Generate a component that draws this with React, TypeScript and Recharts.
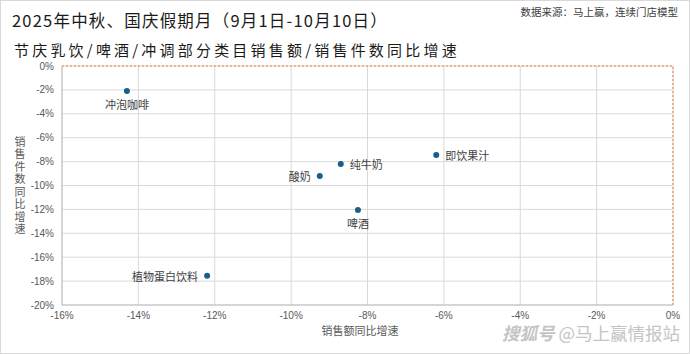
import React from 'react';
import { ScatterChart, Scatter, XAxis, YAxis, CartesianGrid, ReferenceLine } from 'recharts';

const categories = ['冲泡咖啡', '纯牛奶', '酸奶', '即饮果汁', '啤酒', '植物蛋白饮料'];
const salesGrowth = [-14.3, -8.7, -9.25, -6.2, -8.25, -12.2];
const unitsGrowth = [-2.1, -8.2, -9.2, -7.45, -12.05, -17.55];
const xTicks = [-16, -14, -12, -10, -8, -6, -4, -2, 0];
const yTicks = [0, -2, -4, -6, -8, -10, -12, -14, -16, -18, -20];

const labelSide: Record<string, 'below' | 'right' | 'left'> = {
  冲泡咖啡: 'below',
  纯牛奶: 'right',
  酸奶: 'left',
  即饮果汁: 'right',
  啤酒: 'below',
  植物蛋白饮料: 'left',
};

const data = categories.map((name, i) => ({ name, x: salesGrowth[i], y: unitsGrowth[i] }));

const FONT = '"Noto Sans CJK SC", "Noto Sans", sans-serif';
const TICK_FONT = '"Liberation Sans", Arial, sans-serif';

const PointShape = (props: any) => {
  const { cx, cy, payload } = props;
  const side = labelSide[payload.name];
  let tx = cx;
  let ty = cy;
  let anchor: 'middle' | 'start' | 'end' = 'middle';
  if (side === 'below') {
    ty = cy + 13;
  } else if (side === 'right') {
    tx = cx + 9;
    anchor = 'start';
  } else {
    tx = cx - 9;
    anchor = 'end';
  }
  return (
    <g>
      <circle cx={cx} cy={cy} r={3} fill="#1b5e87" />
      <text x={tx} y={ty} textAnchor={anchor} dominantBaseline="central" fontSize={11} fill="#404040" fontFamily={FONT}>
        {payload.name}
      </text>
    </g>
  );
};

const fmt = (v: number) => `${v}%`;

export default function App() {
  return (
    <div style={{ position: 'absolute', left: 0, top: 0, width: 690, height: 354, background: '#fff', fontFamily: FONT }}>
      <ScatterChart width={690} height={354} margin={{ top: 66, right: 17, bottom: 29, left: 22 }}>
        <CartesianGrid stroke="#d9d9d9" strokeWidth={1} />
        <XAxis
          type="number"
          dataKey="x"
          domain={[-16, 0]}
          ticks={xTicks}
          tickFormatter={fmt}
          height={20}
          tick={{ fontSize: 10, fill: '#595959', fontFamily: TICK_FONT, dy: -1 }}
          tickLine={false}
          axisLine={{ stroke: '#bfbfbf' }}
          interval={0}
        />
        <YAxis
          type="number"
          dataKey="y"
          domain={[-20, 0]}
          ticks={yTicks}
          tickFormatter={fmt}
          width={40}
          tick={{ fontSize: 10, fill: '#595959', fontFamily: TICK_FONT }}
          tickLine={false}
          axisLine={{ stroke: '#bfbfbf' }}
          interval={0}
        />
        <ReferenceLine x={0} stroke="#ed7d31" strokeDasharray="2 2" strokeWidth={1} />
        <ReferenceLine y={0} stroke="#ed7d31" strokeDasharray="2 2" strokeWidth={1} />
        <Scatter data={data} shape={PointShape} isAnimationActive={false} />
      </ScatterChart>
      <div style={{ position: 'absolute', left: 12, top: 11, fontSize: 16.5, letterSpacing: 1.2, color: '#1a1a1a', whiteSpace: 'nowrap', lineHeight: '18px' }}>
        2025年中秋、国庆假期月（9月1日-10月10日）
      </div>
      <div style={{ position: 'absolute', left: 14, top: 42, fontSize: 15, letterSpacing: 3.2, color: '#1a1a1a', whiteSpace: 'nowrap', lineHeight: '16px' }}>
        节庆乳饮/啤酒/冲调部分类目销售额/销售件数同比增速
      </div>
      <div style={{ position: 'absolute', right: 12, top: 5, fontSize: 10.5, color: '#404040', whiteSpace: 'nowrap', lineHeight: '14px' }}>
        数据来源：马上赢，连续门店模型
      </div>
      <div
        style={{
          position: 'absolute',
          left: 13,
          top: 136,
          fontSize: 11,
          color: '#595959',
          writingMode: 'vertical-rl',
          textOrientation: 'upright',
          letterSpacing: 1.5,
          lineHeight: '14px',
          whiteSpace: 'nowrap',
        }}
      >
        销售件数同比增速
      </div>
      <div style={{ position: 'absolute', left: 0, width: 720, top: 324, fontSize: 11, color: '#595959', textAlign: 'center', whiteSpace: 'nowrap', lineHeight: '13px' }}>
        销售额同比增速
      </div>
      <div style={{ position: 'absolute', right: 10, top: 326, fontSize: 17.5, color: '#c4c4c4', whiteSpace: 'nowrap', lineHeight: '14px' }}>
        <span style={{ fontStyle: 'italic', fontWeight: 700 }}>搜狐号</span> @马上赢情报站
      </div>
      <div style={{ position: 'absolute', left: 0, top: 0, width: 690, height: 354, boxSizing: 'border-box', border: '1px solid #d9d9d9', pointerEvents: 'none' }} />
    </div>
  );
}
